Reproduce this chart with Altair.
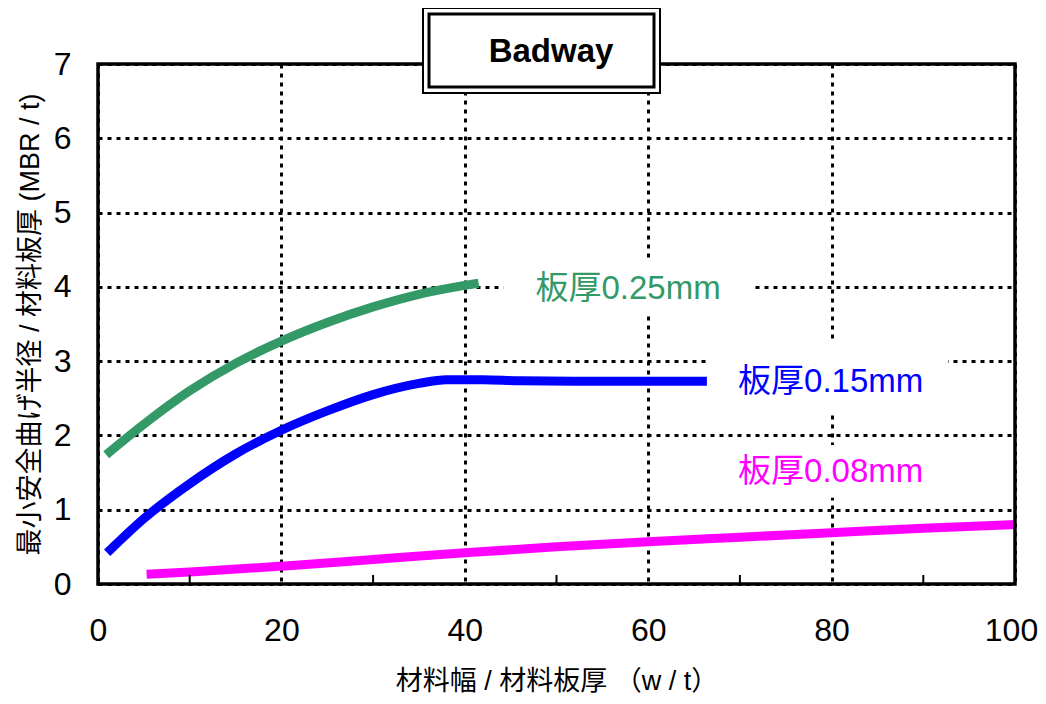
import altair as alt
import pandas as pd

# ---- data ----
green_x = [0.9, 5, 10, 15, 20, 25, 30, 35, 40, 41.5]
green_y = [1.74, 2.15, 2.6, 2.97, 3.27, 3.52, 3.73, 3.9, 4.02, 4.05]

blue_x = [1, 5, 10, 15, 20, 25, 30, 35, 38, 42, 46, 52, 60, 66.5]
blue_y = [0.42, 0.88, 1.35, 1.75, 2.07, 2.33, 2.55, 2.7, 2.75, 2.75, 2.735, 2.73, 2.73, 2.73]

magenta_x = [5.3, 10, 20, 30, 40, 50, 60, 70, 80, 90, 100]
magenta_y = [0.13, 0.16, 0.24, 0.33, 0.42, 0.5, 0.57, 0.63, 0.69, 0.75, 0.8]

series_names = ["板厚0.25mm", "板厚0.15mm", "板厚0.08mm"]
series_colors = ["#339966", "#0000FF", "#FF00FF"]

label_x = [57.8, 79.9, 79.9]
label_y = [3.97, 2.72, 1.51]
box_x1 = [44.2, 66.4, 66.4]
box_x2 = [71.4, 92.7, 92.7]
box_y1 = [3.62, 2.32, 1.16]
box_y2 = [4.39, 3.28, 1.87]

x_ticks = [0, 20, 40, 60, 80, 100]
x_minor = [10, 30, 50, 70, 90]
y_ticks = [0, 1, 2, 3, 4, 5, 6, 7]

title_text = "Badway"
x_title = "材料幅 / 材料板厚 （w / t）"
y_title = "最小安全曲げ半径 / 材料板厚 (MBR / t)"

FONT = "Liberation Sans, Arial, Noto Sans CJK JP"
W, H = 917, 520

rows = []
for name, xs, ys in zip(series_names, [green_x, blue_x, magenta_x], [green_y, blue_y, magenta_y]):
    for i, (a, b) in enumerate(zip(xs, ys)):
        rows.append({"series": name, "x": a, "y": b, "order": i})
lines_df = pd.DataFrame(rows)

labels_df = pd.DataFrame({
    "series": series_names, "x": label_x, "y": label_y,
    "bx1": box_x1, "bx2": box_x2, "by1": box_y1, "by2": box_y2,
})
minor_df = pd.DataFrame({"x": x_minor})
one = pd.DataFrame({"a": [0]})

x_scale = alt.Scale(domain=[0, 100], nice=False, zero=False)
y_scale = alt.Scale(domain=[0, 7], nice=False, zero=False)
color_scale = alt.Scale(domain=series_names, range=series_colors)

x_axis = alt.Axis(values=x_ticks, title=x_title, grid=True, gridDash=[4, 5], gridWidth=3,
                  gridColor="black", gridOpacity=1, domain=False, ticks=False,
                  labelFontSize=32, labelFont=FONT, labelColor="black", labelPadding=31,
                  labelOffset={"condition": {"test": "datum.value == 100", "value": -4}, "value": 0},
                  titleFont=FONT, titleFontSize=27, titleFontWeight="normal", titleColor="black",
                  titlePadding=22, labelFlush=False)
y_axis = alt.Axis(values=y_ticks, title=y_title, grid=True, gridDash=[4, 5], gridWidth=3,
                  gridColor="black", gridOpacity=1, domain=False, ticks=False,
                  labelFontSize=32, labelFont=FONT, labelColor="black", labelPadding=27,
                  titleFont=FONT, titleFontSize=27, titleFontWeight="normal", titleColor="black",
                  titlePadding=9, labelFlush=False)


def X(f):
    return alt.X(f, type="quantitative", scale=x_scale, axis=x_axis)


def Y(f):
    return alt.Y(f, type="quantitative", scale=y_scale, axis=y_axis)


lines = alt.Chart(lines_df).mark_line(strokeWidth=9, strokeCap="butt", interpolate="monotone").encode(
    x=X("x"), y=Y("y"),
    color=alt.Color("series:N", scale=color_scale, legend=None),
    order="order:Q",
    detail="series:N",
)

boxes = alt.Chart(labels_df).mark_rect(color="white").encode(
    x=X("bx1"), x2="bx2", y=Y("by1"), y2="by2",
)

texts = alt.Chart(labels_df).mark_text(fontSize=33, font=FONT, align="center", baseline="middle").encode(
    x=X("x"), y=Y("y"),
    text="series:N",
    color=alt.Color("series:N", scale=color_scale, legend=None),
)

minor = alt.Chart(minor_df).mark_rule(color="black", strokeWidth=2).encode(
    x=X("x"),
    y=alt.value(H), y2=alt.value(H - 9),
)

border = alt.Chart(one).mark_rect(filled=False, stroke="black", strokeWidth=3.5).encode(
    x=alt.value(0), x2=alt.value(W), y=alt.value(0), y2=alt.value(H),
)

title_outer = alt.Chart(one).mark_rect(fill="white", stroke="black", strokeWidth=2).encode(
    x=alt.value(325), x2=alt.value(562), y=alt.value(-56), y2=alt.value(29),
)
title_inner = alt.Chart(one).mark_rect(filled=False, stroke="black", strokeWidth=3).encode(
    x=alt.value(331), x2=alt.value(556), y=alt.value(-50), y2=alt.value(23),
)
title = alt.Chart(one).mark_text(fontSize=33, font=FONT, fontWeight="bold", align="center",
                                 baseline="middle", color="black").encode(
    x=alt.value(453), y=alt.value(-12), text=alt.value(title_text),
)

chart = alt.layer(lines, boxes, minor, texts, border, title_outer, title_inner, title).properties(
    width=W, height=H,
    autosize=alt.AutoSizeParams(type="none"),
    padding={"left": 90, "top": 56, "right": 23, "bottom": 112},
    background="white",
).configure_view(stroke="transparent")

chart.save("out.html", embed_options={"renderer": "svg", "actions": False})
